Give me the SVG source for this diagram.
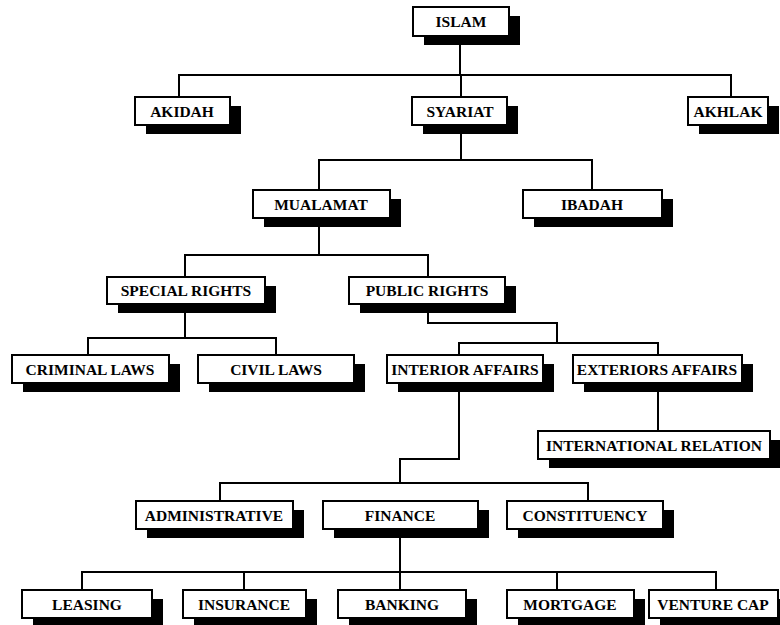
<svg xmlns="http://www.w3.org/2000/svg" width="780" height="625" viewBox="0 0 780 625">
<style>
.sh{fill:#000}
.bx{fill:#fff;stroke:#000;stroke-width:2}
.t{font-family:"Liberation Serif","Times New Roman",serif;font-weight:bold;font-size:15.5px;text-anchor:middle;fill:#000}
.ln{fill:none;stroke:#000;stroke-width:2}
</style>
<rect width="780" height="625" fill="#fff"/>
<g id="connectors" class="ln">
<path d="M460 36V75M179 97V75H731V97M461 75V97"/>
<path d="M461 125V160M319 190V160H592V190"/>
<path d="M319 218V255M185 277V255H428V277"/>
<path d="M185 304V338M88 355V338H276V355"/>
<path d="M428 304V323H557V343M459 355V343H658V355"/>
<path d="M459 383V459H400V483M220 501V483H588V501"/>
<path d="M658 383V431"/>
<path d="M400 529V572M82 590V572H716V590M244 572V590M557 572V590M400 572V590"/>
</g>
<g id="islam"><rect class="sh" x="424" y="16" width="96" height="29"/><rect class="bx" x="413" y="7" width="96" height="29"/><text class="t" x="461" y="27">ISLAM</text></g>
<g id="akidah"><rect class="sh" x="146" y="106" width="95" height="28"/><rect class="bx" x="135" y="97" width="95" height="28"/><text class="t" x="182" y="116.5">AKIDAH</text></g>
<g id="syariat"><rect class="sh" x="423" y="106" width="95" height="28"/><rect class="bx" x="412" y="97" width="95" height="28"/><text class="t" x="460" y="116.5">SYARIAT</text></g>
<g id="akhlak"><rect class="sh" x="699" y="106" width="80" height="28"/><rect class="bx" x="688" y="97" width="80" height="28"/><text class="t" x="728" y="116.5">AKHLAK</text></g>
<g id="mualamat"><rect class="sh" x="264" y="199" width="137" height="28"/><rect class="bx" x="253" y="190" width="137" height="28"/><text class="t" x="321" y="209.5">MUALAMAT</text></g>
<g id="ibadah"><rect class="sh" x="534" y="199" width="139" height="28"/><rect class="bx" x="523" y="190" width="139" height="28"/><text class="t" x="592" y="209.5">IBADAH</text></g>
<g id="special-rights"><rect class="sh" x="118" y="286" width="158" height="27"/><rect class="bx" x="107" y="277" width="158" height="27"/><text class="t" x="186" y="296">SPECIAL RIGHTS</text></g>
<g id="public-rights"><rect class="sh" x="360" y="286" width="156" height="27"/><rect class="bx" x="349" y="277" width="156" height="27"/><text class="t" x="427" y="296">PUBLIC RIGHTS</text></g>
<g id="criminal-laws"><rect class="sh" x="23" y="364" width="157" height="28"/><rect class="bx" x="12" y="355" width="157" height="28"/><text class="t" x="90" y="374.5">CRIMINAL LAWS</text></g>
<g id="civil-laws"><rect class="sh" x="209" y="364" width="156" height="28"/><rect class="bx" x="198" y="355" width="156" height="28"/><text class="t" x="276" y="374.5">CIVIL LAWS</text></g>
<g id="interior-affairs"><rect class="sh" x="398" y="364" width="156" height="28"/><rect class="bx" x="387" y="355" width="156" height="28"/><text class="t" x="465" y="374.5">INTERIOR AFFAIRS</text></g>
<g id="exteriors-affairs"><rect class="sh" x="584" y="364" width="169" height="28"/><rect class="bx" x="573" y="355" width="169" height="28"/><text class="t" x="657" y="374.5">EXTERIORS AFFAIRS</text></g>
<g id="international-relation"><rect class="sh" x="549" y="440" width="232" height="28"/><rect class="bx" x="538" y="431" width="232" height="28"/><text class="t" x="654" y="450.5">INTERNATIONAL RELATION</text></g>
<g id="administrative"><rect class="sh" x="147" y="510" width="157" height="28"/><rect class="bx" x="136" y="501" width="157" height="28"/><text class="t" x="214" y="520.5">ADMINISTRATIVE</text></g>
<g id="finance"><rect class="sh" x="334" y="510" width="155" height="28"/><rect class="bx" x="323" y="501" width="155" height="28"/><text class="t" x="400" y="520.5">FINANCE</text></g>
<g id="constituency"><rect class="sh" x="518" y="510" width="156" height="28"/><rect class="bx" x="507" y="501" width="156" height="28"/><text class="t" x="585" y="520.5">CONSTITUENCY</text></g>
<g id="leasing"><rect class="sh" x="33" y="599" width="130" height="28"/><rect class="bx" x="22" y="590" width="130" height="28"/><text class="t" x="87" y="609.5">LEASING</text></g>
<g id="insurance"><rect class="sh" x="194" y="599" width="123" height="28"/><rect class="bx" x="183" y="590" width="123" height="28"/><text class="t" x="244" y="609.5">INSURANCE</text></g>
<g id="banking"><rect class="sh" x="349" y="599" width="128" height="28"/><rect class="bx" x="338" y="590" width="128" height="28"/><text class="t" x="402" y="609.5">BANKING</text></g>
<g id="mortgage"><rect class="sh" x="518" y="599" width="127" height="28"/><rect class="bx" x="507" y="590" width="127" height="28"/><text class="t" x="570" y="609.5">MORTGAGE</text></g>
<g id="venture-cap"><rect class="sh" x="660" y="599" width="129" height="28"/><rect class="bx" x="649" y="590" width="129" height="28"/><text class="t" x="713" y="609.5">VENTURE CAP</text></g>
</svg>
